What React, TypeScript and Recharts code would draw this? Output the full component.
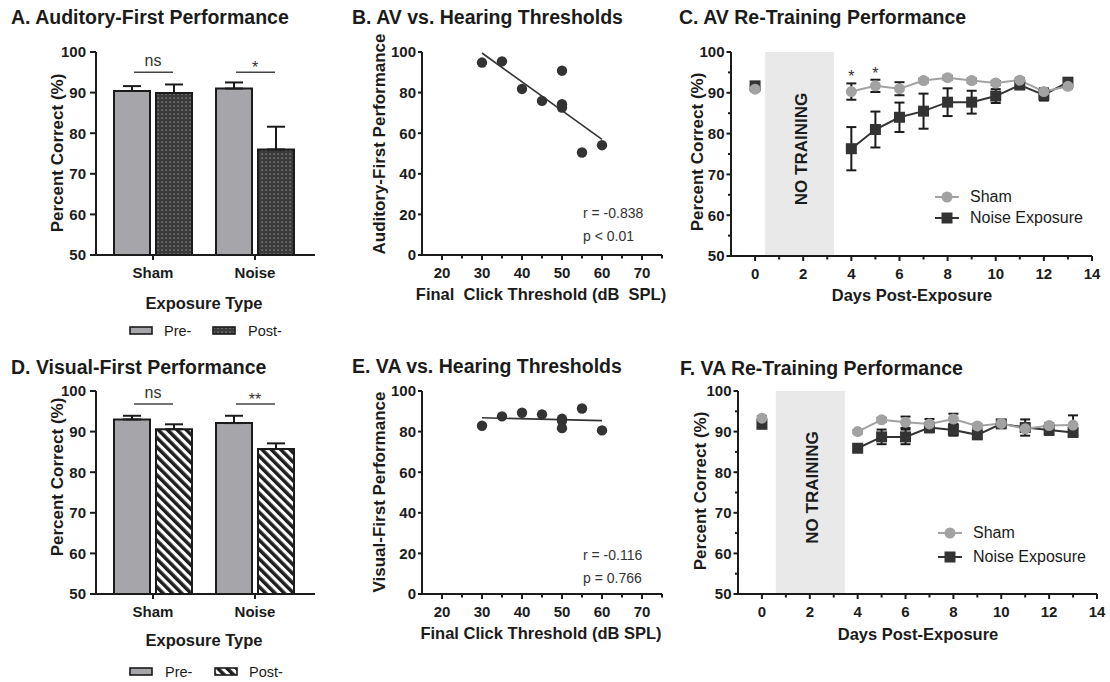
import React from "react";
import {
  Bar,
  ComposedChart,
  ErrorBar,
  Line,
  ReferenceArea,
  Scatter,
  ScatterChart,
  XAxis,
  YAxis,
} from "recharts";

const FONT = '"Liberation Sans", Arial, Helvetica, sans-serif';
const INK = "#1b1b1b";
const PRE_FILL = "#a6a6aa";
const POST_DARK = "#3b3b3b";
const SHAM_GREY = "#a2a2a2";
const NOISE_DARK = "#333333";
const PAUSE_FILL = "#e9e9e9";

// A / D: mean percent correct (+SEM), before and after exposure
const groups = ["Sham", "Noise"];
const audFirstPre = [90.4, 91.0];
const audFirstPreSem = [1.2, 1.5];
const audFirstPost = [89.9, 76.0];
const audFirstPostSem = [2.1, 5.6];
const audFirstSig = ["ns", "*"];

const visFirstPre = [93.0, 92.1];
const visFirstPreSem = [0.9, 1.8];
const visFirstPost = [90.6, 85.7];
const visFirstPostSem = [1.2, 1.4];
const visFirstSig = ["ns", "**"];

// B / E: final click threshold per animal vs. first-modality performance
const clickThresholds = [30, 35, 40, 45, 50, 50, 50, 55, 60];
const avPerformance = [94.8, 95.4, 81.8, 75.9, 90.8, 74.3, 72.6, 50.5, 54.1];
const vaPerformance = [82.9, 87.5, 89.3, 88.5, 86.3, 85.3, 81.7, 91.4, 80.6];
const fitThresholds = [30, 60];
const avFit = [99.5, 57.0];
const vaFit = [86.8, 85.4];

// C / F: daily re-training sessions (null = no sessions run that day)
const days = [0, 1, 2, 3, 4, 5, 6, 7, 8, 9, 10, 11, 12, 13];
const avSham = [90.9, null, null, null, 90.3, 91.7, 91.0, 93.0, 93.7, 93.0, 92.4, 93.1, 90.3, 91.6];
const avShamSem = [0.5, null, null, null, 2.0, 1.5, 1.6, 0.5, 0.5, 0.5, 0.5, 0.5, 0.8, 0.5];
const avNoise = [91.7, null, null, null, 76.3, 81.0, 84.0, 85.5, 87.7, 87.7, 89.2, 91.9, 89.5, 92.6];
const avNoiseSem = [0.7, null, null, null, 5.3, 4.4, 3.6, 4.3, 3.4, 2.8, 1.7, 0.8, 1.4, 0.7];
const avStarDays = [4, 5];

const vaSham = [93.3, null, null, null, 90.0, 92.9, 92.3, 91.9, 93.1, 91.4, 92.0, 90.7, 91.5, 91.6];
const vaShamSem = [0.5, null, null, null, 0.4, 0.5, 1.4, 1.2, 1.3, 0.5, 0.5, 0.6, 0.6, 2.4];
const vaNoise = [91.8, null, null, null, 85.9, 88.7, 88.7, 91.0, 90.4, 89.2, 91.9, 91.0, 90.4, 89.8];
const vaNoiseSem = [0.5, null, null, null, 0.5, 1.8, 1.8, 1.2, 1.4, 1.0, 0.6, 2.0, 1.2, 1.0];

const noTrainingAV = [0.42, 3.28];
const noTrainingVA = [0.58, 3.46];

const groupRows = (pre: number[], preSem: number[], post: number[], postSem: number[], sig: string[], level: number) =>
  groups.map((g, i) => ({
    group: g,
    pre: pre[i],
    preErr: [0, preSem[i]],
    post: post[i],
    postErr: [0, postSem[i]],
    sig: sig[i],
    sigLevel: level,
  }));

const pointRows = (ys: number[]) => clickThresholds.map((x, i) => ({ x, y: ys[i] }));
const fitRows = (ys: number[]) => fitThresholds.map((x, i) => ({ x, y: ys[i] }));

const dayRows = (sham: (number | null)[], shamSem: (number | null)[], noise: (number | null)[], noiseSem: (number | null)[]) =>
  days.map((d, i) => ({ day: d, sham: sham[i], shamErr: shamSem[i], noise: noise[i], noiseErr: noiseSem[i] }));

const axisLine = { stroke: INK, strokeWidth: 2 };

type TickCfg = { step: number; major: number; minor: number; gap: number };

const leftTick = (cfg: TickCfg) => (props: any) => {
  const { x, y, payload, index } = props;
  const v = Number(payload.value);
  const isMajor = cfg.step === 0 || Math.abs(v % cfg.step) < 1e-6;
  const len = isMajor ? cfg.major : cfg.minor;
  return (
    <g key={`yt-${index}`}>
      <line x1={x - len} x2={x} y1={y} y2={y} stroke={INK} strokeWidth={2} />
      {isMajor && (
        <text x={x - len - cfg.gap} y={y + 5.3} textAnchor="end" fontFamily={FONT} fontSize={15} fontWeight={700} fill={INK}>
          {payload.value}
        </text>
      )}
    </g>
  );
};

const bottomTick = (cfg: TickCfg) => (props: any) => {
  const { x, y, payload, index } = props;
  const v = Number(payload.value);
  const isMajor = cfg.step === 0 || Math.abs(v % cfg.step) < 1e-6;
  const len = isMajor ? cfg.major : cfg.minor;
  return (
    <g key={`xt-${index}`}>
      <line x1={x} x2={x} y1={y} y2={y + len} stroke={INK} strokeWidth={2} />
      {isMajor && (
        <text x={x} y={y + 23} textAnchor="middle" fontFamily={FONT} fontSize={15} fontWeight={700} fill={INK}>
          {payload.value}
        </text>
      )}
    </g>
  );
};

// significance bracket above each group
const SigMark = (props: any) => {
  const { cx, cy, payload } = props;
  const star = payload.sig.includes("*");
  return (
    <g>
      <line x1={cx - 19} x2={cx + 20} y1={cy} y2={cy} stroke="#444" strokeWidth={1.6} />
      <text x={cx} y={star ? cy + 1 : cy - 6} textAnchor="middle" fontFamily={FONT} fontSize={16} fill="#333">
        {payload.sig}
      </text>
    </g>
  );
};

function Txt({ x, y, size, bold, anchor = "start", rotate, color = INK, children }: any) {
  const tx = anchor === "middle" ? "-50%" : anchor === "end" ? "-100%" : "0";
  return (
    <div
      style={{
        position: "absolute",
        left: x,
        top: y,
        transform: `translate(${tx}, -50%)${rotate ? ` rotate(${rotate}deg)` : ""}`,
        fontFamily: FONT,
        fontSize: size,
        fontWeight: bold ? 700 : 400,
        color,
        whiteSpace: "pre",
        lineHeight: 1,
      }}
    >
      {children}
    </div>
  );
}

function Swatch({ x, y, fill }: { x: number; y: number; fill: string }) {
  return (
    <svg width={24} height={9} style={{ position: "absolute", left: x, top: y - 4.5 }}>
      <rect x={1} y={1} width={22} height={7} fill={fill} stroke={INK} strokeWidth={1.6} />
    </svg>
  );
}

function SeriesKey({ x, y, kind }: { x: number; y: number; kind: "sham" | "noise" }) {
  const color = kind === "sham" ? SHAM_GREY : NOISE_DARK;
  return (
    <svg width={26} height={14} style={{ position: "absolute", left: x - 13, top: y - 7 }}>
      <line x1={1} x2={25} y1={7} y2={7} stroke={color} strokeWidth={2} />
      {kind === "sham" ? <circle cx={13} cy={7} r={5.5} fill={color} /> : <rect x={7.5} y={1.5} width={11} height={11} fill={color} />}
    </svg>
  );
}

function ExposureBars({ left, top, plotTop, rows, postFill, defs }: any) {
  const height = plotTop + 203 + 30;
  return (
    <div style={{ position: "absolute", left, top }}>
      <ComposedChart width={340} height={height} data={rows} margin={{ top: plotTop, right: 25, bottom: 0, left: 0 }} barGap={6}>
        {defs}
        <XAxis
          dataKey="group"
          padding={{ left: 6, right: 9 }}
          axisLine={axisLine}
          tickLine={false}
          tickSize={0}
          tickMargin={0}
          interval={0}
          height={30}
          tick={bottomTick({ step: 0, major: 5, minor: 5, gap: 0 })}
        />
        <YAxis
          type="number"
          domain={[50, 100]}
          ticks={[50, 60, 70, 80, 90, 100]}
          width={96}
          axisLine={axisLine}
          tickLine={false}
          tickSize={0}
          tickMargin={0}
          interval={0}
          tick={leftTick({ step: 10, major: 6, minor: 6, gap: 4 })}
        />
        <Bar dataKey="pre" barSize={36} fill={PRE_FILL} stroke={INK} strokeWidth={2} isAnimationActive={false}>
          <ErrorBar dataKey="preErr" width={9} stroke={INK} strokeWidth={2} />
        </Bar>
        <Bar dataKey="post" barSize={36} fill={postFill} stroke={INK} strokeWidth={2} isAnimationActive={false}>
          <ErrorBar dataKey="postErr" width={9} stroke={INK} strokeWidth={2} />
        </Bar>
        <Scatter dataKey="sigLevel" shape={SigMark} isAnimationActive={false} />
      </ComposedChart>
    </div>
  );
}

function ThresholdScatter({ left, top, plotTop, points, fit }: any) {
  const height = plotTop + 203 + 30;
  return (
    <div style={{ position: "absolute", left, top }}>
      <ScatterChart width={340} height={height} margin={{ top: plotTop, right: 18, bottom: 0, left: 0 }}>
        <XAxis
          type="number"
          dataKey="x"
          domain={[15, 75]}
          ticks={[20, 25, 30, 35, 40, 45, 50, 55, 60, 65, 70, 75]}
          axisLine={axisLine}
          tickLine={false}
          tickSize={0}
          tickMargin={0}
          interval={0}
          height={30}
          tick={bottomTick({ step: 10, major: 5, minor: 3.5, gap: 0 })}
        />
        <YAxis
          type="number"
          dataKey="y"
          domain={[0, 100]}
          ticks={[0, 20, 40, 60, 80, 100]}
          width={82}
          axisLine={axisLine}
          tickLine={false}
          tickSize={0}
          tickMargin={0}
          interval={0}
          tick={leftTick({ step: 20, major: 4, minor: 4, gap: 2 })}
        />
        <Scatter
          data={points}
          isAnimationActive={false}
          shape={(p: any) => <circle cx={p.cx} cy={p.cy} r={5.2} fill={NOISE_DARK} />}
        />
        <Scatter
          data={fit}
          isAnimationActive={false}
          line={{ stroke: NOISE_DARK, strokeWidth: 1.6 }}
          shape={() => <g />}
        />
      </ScatterChart>
    </div>
  );
}

const NoTrainingLabel = (props: any) => {
  const { viewBox } = props;
  if (!viewBox) return null;
  const cx = viewBox.x + viewBox.width / 2 + 2;
  const cy = viewBox.y + viewBox.height / 2 - 5;
  return (
    <text
      x={cx}
      y={cy}
      transform={`rotate(-90 ${cx} ${cy})`}
      textAnchor="middle"
      dominantBaseline="central"
      fontFamily={FONT}
      fontSize={17}
      fontWeight={700}
      fill={INK}
    >
      NO TRAINING
    </text>
  );
};

const circleDot = (p: any) =>
  p.cy == null || p.value == null ? <g key={`c-${p.index}`} /> : <circle key={`c-${p.index}`} cx={p.cx} cy={p.cy} r={5.5} fill={SHAM_GREY} />;
const squareDot = (p: any) =>
  p.cy == null || p.value == null ? (
    <g key={`s-${p.index}`} />
  ) : (
    <rect key={`s-${p.index}`} x={p.cx - 5.5} y={p.cy - 5.5} width={11} height={11} fill={NOISE_DARK} />
  );

const StarMark = (p: any) => (
  <text x={p.cx} y={p.cy - 9.5 + 8.5} textAnchor="middle" fontFamily={FONT} fontSize={16} fill="#333">
    *
  </text>
);

function RetrainingLines({ left, top, plotTop, plotHeight, axisW, right, rows, pause, stars }: any) {
  const height = plotTop + plotHeight + 30;
  return (
    <div style={{ position: "absolute", left, top }}>
      <ComposedChart width={430} height={height} data={rows} margin={{ top: plotTop, right, bottom: 0, left: 0 }}>
        <ReferenceArea
          x1={pause[0]}
          x2={pause[1]}
          y1={50}
          y2={100}
          fill={PAUSE_FILL}
          fillOpacity={1}
          stroke="none"
          label={{ content: NoTrainingLabel }}
        />
        <XAxis
          type="number"
          dataKey="day"
          domain={[-1, 14]}
          ticks={[0, 1, 2, 3, 4, 5, 6, 7, 8, 9, 10, 11, 12, 13, 14]}
          axisLine={axisLine}
          tickLine={false}
          tickSize={0}
          tickMargin={0}
          interval={0}
          height={30}
          tick={bottomTick({ step: 2, major: 5, minor: 3.5, gap: 0 })}
        />
        <YAxis
          type="number"
          domain={[50, 100]}
          ticks={[50, 55, 60, 65, 70, 75, 80, 85, 90, 95, 100]}
          width={axisW}
          axisLine={axisLine}
          tickLine={false}
          tickSize={0}
          tickMargin={0}
          interval={0}
          tick={leftTick({ step: 10, major: 4.5, minor: 3, gap: 2 })}
        />
        <Line
          dataKey="noise"
          stroke={NOISE_DARK}
          strokeWidth={2}
          dot={squareDot}
          activeDot={false}
          connectNulls={false}
          isAnimationActive={false}
        >
          <ErrorBar dataKey="noiseErr" width={5} stroke={INK} strokeWidth={2} />
        </Line>
        <Line
          dataKey="sham"
          stroke={SHAM_GREY}
          strokeWidth={2}
          dot={circleDot}
          activeDot={false}
          connectNulls={false}
          isAnimationActive={false}
        >
          <ErrorBar dataKey="shamErr" width={5} stroke={INK} strokeWidth={2} />
        </Line>
        {stars && <Scatter data={stars} dataKey="top" shape={StarMark} isAnimationActive={false} />}
      </ComposedChart>
    </div>
  );
}

const dotPattern = (
  <defs>
    <pattern id="postDots" width={4} height={4} patternUnits="userSpaceOnUse">
      <rect width={4} height={4} fill={POST_DARK} />
      <rect x={1.5} y={1.5} width={1.2} height={1.2} fill="#a8a8a8" />
    </pattern>
  </defs>
);

const stripePattern = (
  <defs>
    <pattern id="postStripes" width={6.6} height={6.6} patternUnits="userSpaceOnUse" patternTransform="rotate(-45)">
      <rect width={6.6} height={6.6} fill="#ffffff" />
      <rect width={3.5} height={6.6} fill="#1e1e1e" />
    </pattern>
  </defs>
);

export default function App() {
  const audRows = groupRows(audFirstPre, audFirstPreSem, audFirstPost, audFirstPostSem, audFirstSig, 95.0);
  const visRows = groupRows(visFirstPre, visFirstPreSem, visFirstPost, visFirstPostSem, visFirstSig, 96.8);
  const avRows = dayRows(avSham, avShamSem, avNoise, avNoiseSem);
  const vaRows = dayRows(vaSham, vaShamSem, vaNoise, vaNoiseSem);
  const avStars = avStarDays.map((d) => ({ day: d, top: (avSham[d] as number) + (avShamSem[d] as number) }));

  return (
    <div style={{ position: "absolute", left: 0, top: 0, width: 1110, height: 682, background: "#fff", overflow: "hidden" }}>
      {/* A */}
      <Txt x={11} y={18} size={19.5} bold>A. Auditory-First Performance</Txt>
      <ExposureBars left={0} top={0} plotTop={52} rows={audRows} postFill="url(#postDots)" defs={dotPattern} />
      <Txt x={57} y={153} size={17} bold anchor="middle" rotate={-90}>Percent Correct (%)</Txt>
      <Txt x={204} y={303} size={16.5} bold anchor="middle">Exposure Type</Txt>
      <Swatch x={129} y={330} fill={PRE_FILL} />
      <Txt x={164} y={331} size={14.5}>Pre-</Txt>
      <Swatch x={212} y={330} fill="url(#postDots)" />
      <Txt x={248} y={331} size={14.5}>Post-</Txt>

      {/* B */}
      <Txt x={352} y={18} size={19.5} bold>B. AV vs. Hearing Thresholds</Txt>
      <ThresholdScatter left={340} top={0} plotTop={52} points={pointRows(avPerformance)} fit={fitRows(avFit)} />
      <Txt x={379} y={144} size={17} bold anchor="middle" rotate={-90}>Auditory-First Performance</Txt>
      <Txt x={541} y={294} size={16.5} bold anchor="middle">{"Final  Click Threshold (dB  SPL)"}</Txt>
      <Txt x={583} y={213} size={14} color="#333">r = -0.838</Txt>
      <Txt x={583} y={236} size={14} color="#333">p &lt; 0.01</Txt>

      {/* C */}
      <Txt x={679} y={18} size={19.5} bold>C. AV Re-Training Performance</Txt>
      <RetrainingLines left={680} top={0} plotTop={52} plotHeight={204} axisW={51} right={18} rows={avRows} pause={noTrainingAV} stars={avStars} />
      <Txt x={697} y={152} size={17} bold anchor="middle" rotate={-90}>Percent Correct (%)</Txt>
      <Txt x={912} y={295} size={16.5} bold anchor="middle">Days Post-Exposure</Txt>
      <SeriesKey x={947} y={197} kind="sham" />
      <Txt x={970} y={197} size={16}>Sham</Txt>
      <SeriesKey x={947} y={218} kind="noise" />
      <Txt x={970} y={218} size={16}>Noise Exposure</Txt>

      {/* D */}
      <Txt x={11} y={368} size={19.5} bold>D. Visual-First Performance</Txt>
      <ExposureBars left={0} top={330} plotTop={61} rows={visRows} postFill="url(#postStripes)" defs={stripePattern} />
      <Txt x={57} y={477} size={17} bold anchor="middle" rotate={-90}>Percent Correct (%)</Txt>
      <Txt x={204} y={640} size={16.5} bold anchor="middle">Exposure Type</Txt>
      <Swatch x={129} y={671} fill={PRE_FILL} />
      <Txt x={165} y={672} size={14.5}>Pre-</Txt>
      <Swatch x={214} y={671} fill="url(#postStripes)" />
      <Txt x={249} y={672} size={14.5}>Post-</Txt>

      {/* E */}
      <Txt x={352} y={367} size={19.5} bold>E. VA vs. Hearing Thresholds</Txt>
      <ThresholdScatter left={340} top={330} plotTop={61} points={pointRows(vaPerformance)} fit={fitRows(vaFit)} />
      <Txt x={379} y={492} size={17} bold anchor="middle" rotate={-90}>Visual-First Performance</Txt>
      <Txt x={541} y={633} size={16.5} bold anchor="middle">Final Click Threshold (dB SPL)</Txt>
      <Txt x={583} y={555} size={14} color="#333">r = -0.116</Txt>
      <Txt x={583} y={578} size={14} color="#333">p = 0.766</Txt>

      {/* F */}
      <Txt x={680} y={369} size={19.5} bold>F. VA Re-Training Performance</Txt>
      <RetrainingLines left={680} top={330} plotTop={61} plotHeight={203} axisW={58} right={13} rows={vaRows} pause={noTrainingVA} />
      <Txt x={700} y={491} size={17} bold anchor="middle" rotate={-90}>Percent Correct (%)</Txt>
      <Txt x={918} y={634} size={16.5} bold anchor="middle">Days Post-Exposure</Txt>
      <SeriesKey x={950} y={533} kind="sham" />
      <Txt x={973} y={533} size={16}>Sham</Txt>
      <SeriesKey x={950} y={557} kind="noise" />
      <Txt x={973} y={557} size={16}>Noise Exposure</Txt>
    </div>
  );
}
